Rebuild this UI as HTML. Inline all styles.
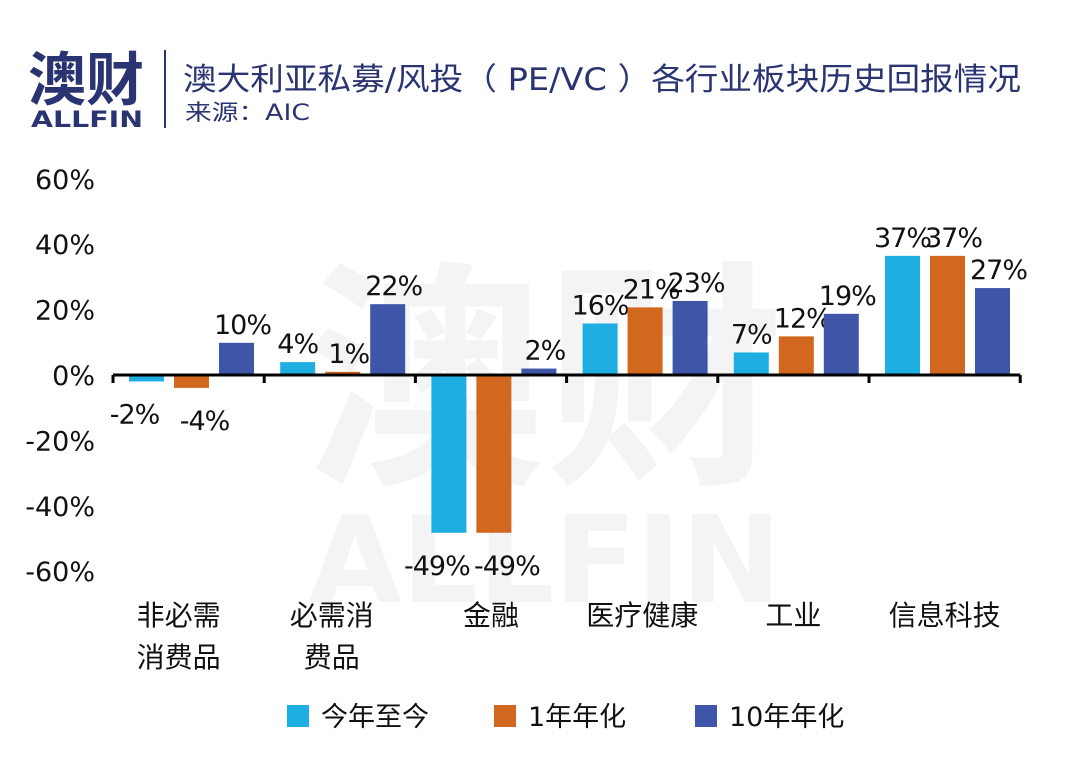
<!DOCTYPE html>
<html><head><meta charset="utf-8"><style>
body{margin:0;width:1080px;height:767px;background:#fff;overflow:hidden;font-family:"DejaVu Sans","Noto Sans CJK SC",sans-serif}
svg text{font-family:"DejaVu Sans","Noto Sans CJK SC",sans-serif}
</style></head><body>
<svg width="1080" height="767">
<g fill="#f4f4f4" font-weight="bold">
<text x="545" y="465" font-size="240" text-anchor="middle">澳财</text>
<text x="545" y="602" font-size="120" text-anchor="middle">ALLFIN</text>
</g>
<g>
<text x="28" y="100" font-size="58" font-weight="bold" fill="#2b3472">澳财</text>
<text x="31" y="127" font-size="22" font-weight="bold" fill="#2b3472" textLength="112" lengthAdjust="spacingAndGlyphs">ALLFIN</text>
<line x1="165" y1="50" x2="165" y2="128" stroke="#2b3472" stroke-width="2"/>
<text x="183" y="90" font-size="31" fill="#2b3472" textLength="838" lengthAdjust="spacingAndGlyphs">澳大利亚私募/风投（ PE/VC ）各行业板块历史回报情况</text>
<text x="185" y="120" font-size="22" fill="#2b3472" textLength="125" lengthAdjust="spacingAndGlyphs">来源：AIC</text>
</g>
<g id="plot"></g>
</svg>
<script>
const categories=[["非必需","消费品"],["必需消","费品"],["金融"],["医疗健康"],["工业"],["信息科技"]];
const seriesNames=["今年至今","1年年化","10年年化"];
const ytd=[-2,4,-49,16,7,37];
const oneYear=[-4,1,-49,21,12,37];
const tenYear=[10,22,2,23,19,27];
const yTicks=[60,40,20,0,-20,-40,-60];
const colors=["#1eaee2","#d2681f","#3f56a8"];
const series=[ytd,oneYear,tenYear];
const ns="http://www.w3.org/2000/svg";
const g=document.getElementById('plot');
const x0=113,catW=151.2,zeroY=375,pxPer=3.22;
const y=v=>zeroY-v*pxPer;
const offs=[16,61,106],bw=35;
const posDx=[0,6,6],negDx=[-12,13,0];
function mk(t,a,txt){const e=document.createElementNS(ns,t);for(const k in a)e.setAttribute(k,a[k]);if(txt!=null)e.textContent=txt;g.appendChild(e);return e;}
yTicks.forEach(v=>{const e=mk('text',{x:95,y:y(v)+10-v*0.05,'font-size':27,'text-anchor':'end',fill:'#111'},v+'%');

});
series.forEach((s,si)=>{s.forEach((v,ci)=>{
const bx=x0+ci*catW+offs[si];
const r=mk('rect',{x:bx,y:Math.min(y(v),zeroY),width:bw,height:Math.abs(y(v)-zeroY),fill:colors[si]});


const ly=v>=0?y(v)-9:y(v)+42;
const dx=v>=0?posDx[si]:negDx[si];
const t=mk('text',{x:bx+bw/2+dx,y:ly,'font-size':27,'letter-spacing':-1,'text-anchor':'middle',fill:'#111'},v+'%');


});});
const ax=mk('line',{x1:x0,y1:zeroY,x2:x0+6*catW,y2:zeroY,stroke:'#000','stroke-width':3});


for(let i=0;i<=6;i++){const tk=mk('line',{x1:x0+i*catW,y1:zeroY,x2:x0+i*catW,y2:zeroY+8,stroke:'#000','stroke-width':3});

}
categories.forEach((c,ci)=>{c.forEach((line,li)=>{
const t=mk('text',{x:x0+ci*catW+catW/2+(ci==0?-10:ci==1?-8:0),y:625+li*42,'font-size':28,'text-anchor':'middle',fill:'#111'},line);

});});
const lx=[287,494,695];
seriesNames.forEach((n,i)=>{
const r=mk('rect',{x:lx[i],y:705,width:22,height:22,fill:colors[i]});


const t=mk('text',{x:lx[i]+34,y:726,'font-size':27,fill:'#111'},n);

});
</script>
</body></html>
